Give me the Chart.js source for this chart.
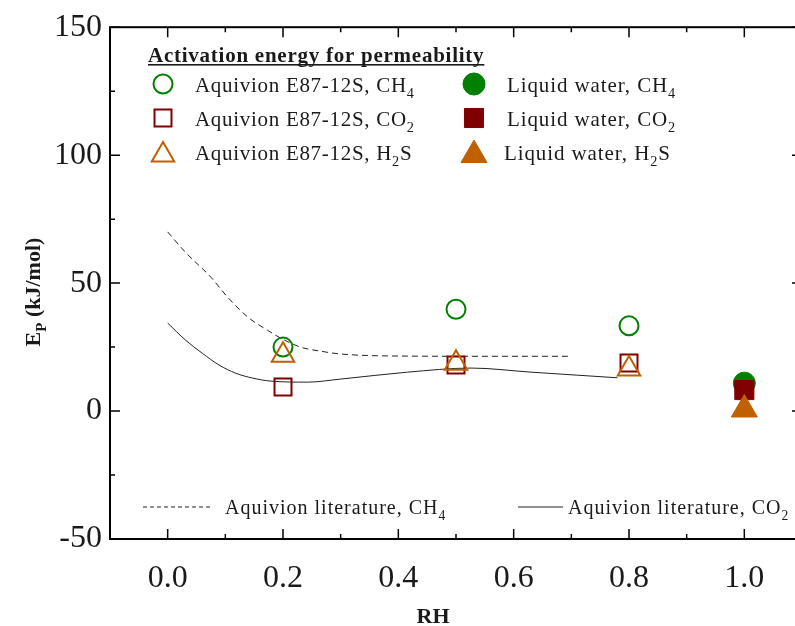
<!DOCTYPE html>
<html>
<head>
<meta charset="utf-8">
<script src="https://cdn.jsdelivr.net/npm/chart.js@4/dist/chart.umd.min.js"></script>
<style>
  html, body { margin: 0; padding: 0; background: #fff; overflow: hidden; }
  #wrap { width: 818px; height: 626px; }
</style>
</head>
<body>
<div id="wrap"><canvas id="grafico" width="818" height="626"></canvas></div>
<script>
// measured points (Aquivion E87-12S membranes)
const rhMembrana = [0.2, 0.5, 0.8];
const aqCH4 = [25.0, 39.8, 33.3];
const aqCO2 = [9.4, 18.0, 18.8];
const aqH2S = [21.8, 18.7, 16.4];

// liquid water
const rhAgua = [1.0];
const aguaCH4 = [10.9];
const aguaCO2 = [8.2];
const aguaH2S = [0.6];

// literature curves
const litCH4_rh = [0.0, 0.031, 0.075, 0.104, 0.139, 0.173, 0.196, 0.23, 0.265, 0.30, 0.40, 0.55, 0.70];
const litCH4 =    [70.0, 62.0, 52.3, 44.5, 36.7, 31.6, 28.5, 25.0, 23.4, 22.3, 21.5, 21.4, 21.4];
const litCO2_rh = [0.0, 0.031, 0.06, 0.089, 0.118, 0.147, 0.179, 0.243, 0.30, 0.416, 0.526, 0.63, 0.78];
const litCO2 =    [34.4, 27.7, 22.6, 18.0, 14.8, 12.9, 11.7, 11.3, 12.5, 15.2, 16.8, 15.2, 13.0];

// axis ticks
const xTicks = [0.0, 0.2, 0.4, 0.6, 0.8, 1.0];
const yTicks = [-50, 0, 50, 100, 150];

const legendTitulo = "Activation energy for permeability";
const legendEsq = [
  [["Aquivion E87-12S, CH"], ["4", 1]],
  [["Aquivion E87-12S, CO"], ["2", 1]],
  [["Aquivion E87-12S, H"], ["2", 1], ["S"]]
];
const legendDir = [
  [["Liquid water, CH"], ["4", 1]],
  [["Liquid water, CO"], ["2", 1]],
  [["Liquid water, H"], ["2", 1], ["S"]]
];
const legendLit = [
  [["Aquivion literature, CH"], ["4", 1]],
  [["Aquivion literature, CO"], ["2", 1]]
];

const verde = "rgb(0,128,0)";
const vinho = "rgb(128,0,0)";
const laranja = "rgb(192,96,0)";
const serif = "'Liberation Serif', 'Times New Roman', serif";

function pares(xs, ys) {
  return xs.map((v, i) => ({x: v, y: ys[i]}));
}

function textoRico(ctx, partes, x, y, tam, peso) {
  let cx = x;
  partes.forEach(p => {
    const sub = p[1];
    const t = sub ? tam * 0.68 : tam;
    ctx.font = (peso || "") + " " + t + "px " + serif;
    ctx.fillText(p[0], cx, sub ? y + tam * 0.28 : y);
    cx += ctx.measureText(p[0]).width;
  });
  return cx;
}

function marcador(ctx, estilo, raio, cor, cheio, x, y) {
  ctx.save();
  ctx.strokeStyle = cor;
  ctx.fillStyle = cheio ? cor : "rgba(0,0,0,0)";
  ctx.lineWidth = cheio ? 1 : 2;
  Chart.helpers.drawPoint(ctx, {pointStyle: estilo, radius: raio, borderWidth: ctx.lineWidth, rotation: 0}, x, y);
  ctx.restore();
}

const decor = {
  id: "decor",
  afterDraw(chart) {
    const {ctx, chartArea: a, scales} = chart;
    const sx = scales.x, sy = scales.y;
    ctx.save();
    ctx.strokeStyle = "#000";
    ctx.lineWidth = 2;
    ctx.strokeRect(a.left, a.top, a.right - a.left, a.bottom - a.top);

    // inward ticks, mirrored on top and right
    ctx.lineWidth = 1.5;
    ctx.beginPath();
    const xt = sx.ticks.map(t => t.value);
    xt.forEach((v, i) => {
      const px = sx.getPixelForValue(v);
      ctx.moveTo(px, a.bottom); ctx.lineTo(px, a.bottom - 10);
      ctx.moveTo(px, a.top); ctx.lineTo(px, a.top + 10);
      if (i < xt.length - 1) {
        const pm = sx.getPixelForValue((v + xt[i + 1]) / 2);
        ctx.moveTo(pm, a.bottom); ctx.lineTo(pm, a.bottom - 5);
        ctx.moveTo(pm, a.top); ctx.lineTo(pm, a.top + 5);
      }
    });
    const yt = sy.ticks.map(t => t.value);
    yt.forEach((v, i) => {
      const py = sy.getPixelForValue(v);
      ctx.moveTo(a.left, py); ctx.lineTo(a.left + 10, py);
      ctx.moveTo(a.right, py); ctx.lineTo(a.right - 10, py);
      if (i < yt.length - 1) {
        const pm = sy.getPixelForValue((v + yt[i + 1]) / 2);
        ctx.moveTo(a.left, pm); ctx.lineTo(a.left + 5, pm);
        ctx.moveTo(a.right, pm); ctx.lineTo(a.right - 5, pm);
      }
    });
    ctx.stroke();

    ctx.fillStyle = "#1a1a1a";
    ctx.textBaseline = "alphabetic";

    // axis titles
    ctx.font = "bold 22px " + serif;
    ctx.textAlign = "center";
    ctx.fillText("RH", 433, 623);

    ctx.save();
    ctx.translate(40, 292);
    ctx.rotate(-Math.PI / 2);
    ctx.textAlign = "left";
    const tituloY = [["E"], ["P", 1], [" (kJ/mol)"]];
    let larg = 0;
    tituloY.forEach(p => {
      ctx.font = "bold " + (p[1] ? 15 : 22) + "px " + serif;
      larg += ctx.measureText(p[0]).width;
    });
    textoRico(ctx, tituloY, -larg / 2, 0, 22, "bold");
    ctx.restore();

    // legend
    ctx.textAlign = "left";
    ctx.font = "bold 21px " + serif;
    ctx.letterSpacing = "0.75px";
    ctx.fillText(legendTitulo, 148, 62);
    const lt = ctx.measureText(legendTitulo).width;
    ctx.fillRect(148, 64, lt, 1.6);

    const linhas = [84, 118, 152];
    const estilos = ["circle", "rect", "triangle"];
    const cores = [verde, vinho, laranja];
    const raiosA = [9.5, 12, 13];
    const raiosB = [11, 13.5, 15];
    linhas.forEach((ly, i) => {
      marcador(ctx, estilos[i], raiosA[i], cores[i], false, 163, ly + (i === 2 ? 3 : 0));
      marcador(ctx, estilos[i], raiosB[i], cores[i], true, 474, ly + (i === 2 ? 3 : 0));
      ctx.fillStyle = "#1a1a1a";
      ctx.letterSpacing = "0.7px";
      textoRico(ctx, legendEsq[i], 195, ly + 8, 21);
      ctx.letterSpacing = "0.9px";
      textoRico(ctx, legendDir[i], i === 2 ? 504 : 507, ly + 8, 21);
    });

    // literature legend
    ctx.strokeStyle = "#222";
    ctx.lineWidth = 1;
    ctx.setLineDash([4, 3]);
    ctx.beginPath(); ctx.moveTo(143, 507); ctx.lineTo(210, 507); ctx.stroke();
    ctx.setLineDash([]);
    ctx.beginPath(); ctx.moveTo(518, 507); ctx.lineTo(563, 507); ctx.stroke();
    ctx.letterSpacing = "1px";
    textoRico(ctx, legendLit[0], 225, 514, 20);
    textoRico(ctx, legendLit[1], 568, 514, 20);
    ctx.restore();
  }
};

new Chart(document.getElementById("grafico"), {
  type: "scatter",
  data: {
    datasets: [
      {label: "lit CH4", data: pares(litCH4_rh, litCH4), showLine: true, pointRadius: 0,
       borderColor: "#222", borderWidth: 1, borderDash: [6, 4], cubicInterpolationMode: "monotone", order: 10},
      {label: "lit CO2", data: pares(litCO2_rh, litCO2), showLine: true, pointRadius: 0,
       borderColor: "#222", borderWidth: 1, cubicInterpolationMode: "monotone", order: 9},
      {label: "aq CH4", data: pares(rhMembrana, aqCH4), pointStyle: "circle", pointRadius: 9.5,
       borderColor: verde, backgroundColor: "rgba(0,0,0,0)", borderWidth: 2, order: 5},
      {label: "aq CO2", data: pares(rhMembrana, aqCO2), pointStyle: "rect", pointRadius: 12,
       borderColor: vinho, backgroundColor: "rgba(0,0,0,0)", borderWidth: 2, order: 4},
      {label: "aq H2S", data: pares(rhMembrana, aqH2S), pointStyle: "triangle", pointRadius: 13,
       borderColor: laranja, backgroundColor: "rgba(0,0,0,0)", borderWidth: 2, order: 3},
      {label: "agua CH4", data: pares(rhAgua, aguaCH4), pointStyle: "circle", pointRadius: 11,
       borderColor: verde, backgroundColor: verde, borderWidth: 1, order: 2},
      {label: "agua CO2", data: pares(rhAgua, aguaCO2), pointStyle: "rect", pointRadius: 13.5,
       borderColor: vinho, backgroundColor: vinho, borderWidth: 1, order: 1},
      {label: "agua H2S", data: pares(rhAgua, aguaH2S), pointStyle: "triangle", pointRadius: 15,
       borderColor: laranja, backgroundColor: laranja, borderWidth: 1, order: 0}
    ]
  },
  options: {
    responsive: false,
    devicePixelRatio: 1,
    animation: false,
    layout: {padding: {top: 27, right: 1, left: 0, bottom: 0}},
    plugins: {legend: {display: false}, tooltip: {enabled: false}},
    scales: {
      x: {
        type: "linear", min: -0.1, max: 1.1,
        border: {display: false},
        grid: {display: false, drawTicks: false},
        afterBuildTicks: s => { s.ticks = xTicks.map(v => ({value: v})); },
        afterFit: s => { s.height = 87; },
        ticks: {
          padding: 20, color: "#1a1a1a", maxRotation: 0,
          font: {family: serif, size: 32},
          callback: v => Number(v).toFixed(1)
        }
      },
      y: {
        min: -50, max: 150,
        border: {display: false},
        grid: {display: false, drawTicks: false},
        afterBuildTicks: s => { s.ticks = yTicks.map(v => ({value: v})); },
        afterFit: s => { s.width = 110; },
        ticks: {
          padding: 8, color: "#1a1a1a",
          font: {family: serif, size: 32}
        }
      }
    }
  },
  plugins: [decor]
});
</script>
</body>
</html>
